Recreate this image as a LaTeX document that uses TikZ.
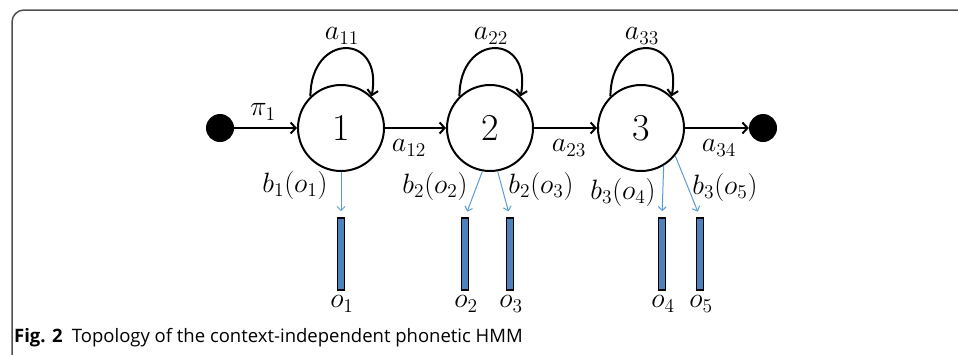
\documentclass[tikz,border=0pt]{standalone}
\usepackage{fontspec}
\setsansfont{Open Sans}
\usetikzlibrary{arrows.meta}
\definecolor{arrblue}{RGB}{91,155,213}
\definecolor{barblue}{RGB}{79,129,189}
\definecolor{framegray}{RGB}{80,80,80}
\newcommand{\lbl}[1]{\scalebox{1.35}{$#1$}}
\begin{document}
\begin{tikzpicture}[x=1pt,y=-1pt,
  state/.style={circle,draw,line width=2pt,minimum size=86pt,inner sep=0pt,font=\fontsize{38}{38}\selectfont},
  dot/.style={circle,fill=black,minimum size=28pt,inner sep=0pt},
  trans/.style={line width=2pt,-{Straight Barb[length=5pt,width=11pt,line width=2pt]}},
  emis/.style={arrblue,line width=1pt,-{Straight Barb[length=4pt,width=8pt]},shorten >=6pt},
  obsbar/.style={rectangle,draw=black,line width=1.6pt,fill=barblue,minimum width=7pt,minimum height=72pt,inner sep=0pt},
  lab/.style={font=\huge,inner sep=0pt},
  blab/.style={font=\huge,inner sep=0pt}]
\useasboundingbox (0,0) rectangle (958,354);
% frame
\draw[framegray,line width=1.5pt,rounded corners=12pt] (12,360) -- (12,10) -- (965,10);
% nodes
\node[dot] (start) at (220,128) {};
\node[state] (s1) at (341,128) {1};
\node[state] (s2) at (490,128) {2};
\node[state] (s3) at (641,128) {3};
\node[dot] (end) at (763,128) {};
% transitions
\draw[trans] (start) -- (s1);
\draw[trans] (s1) -- (s2);
\draw[trans] (s2) -- (s3);
\draw[trans] (s3) -- (end);
\foreach \s in {s1,s2,s3}{
  \draw[trans] (\s.134) .. controls +(0,-64) and +(12,-64) .. (\s.46);
}
% transition labels
\node[lab] (pi1) at (263,112) {\lbl{\pi_1}};
\node[lab] (a11) at (342,36) {\lbl{a_{11}}};
\node[lab] (a22) at (491,36) {\lbl{a_{22}}};
\node[lab] (a33) at (642,36) {\lbl{a_{33}}};
\node[lab] (a12) at (409,148) {\lbl{a_{12}}};
\node[lab] (a23) at (569,148) {\lbl{a_{23}}};
\node[lab] (a34) at (719,148) {\lbl{a_{34}}};
% observation bars
\node[obsbar] (o1) at (341,254) {};
\node[obsbar] (o2) at (465,254) {};
\node[obsbar] (o3) at (510,254) {};
\node[obsbar] (o4) at (662,254) {};
\node[obsbar] (o5) at (700,254) {};
\node[lab] (lo1) at (342,304) {\lbl{o_1}};
\node[lab] (lo2) at (466,304) {\lbl{o_2}};
\node[lab] (lo3) at (511,304) {\lbl{o_3}};
\node[lab] (lo4) at (663,304) {\lbl{o_4}};
\node[lab] (lo5) at (701,304) {\lbl{o_5}};
% emissions
\draw[emis] (s1.south) -- (o1.north);
\draw[emis] (s2.-100) -- (o2.north);
\draw[emis] (s2.-80) -- (o3.north);
\draw[emis] (s3.-59) -- (o4.north);
\draw[emis] (s3.-39) -- (o5.north);
\node[blab] (b1) at (295,185) {\lbl{b_1(o_1)}};
\node[blab] (b2a) at (435,186) {\lbl{b_2(o_2)}};
\node[blab] (b2b) at (541,186) {\lbl{b_2(o_3)}};
\node[blab] (b3a) at (623,192) {\lbl{b_3(o_4)}};
\node[blab] (b3b) at (725,187) {\lbl{b_3(o_5)}};
% caption
\node[anchor=base west,inner sep=0pt,font=\sffamily\fontsize{18.5}{22}\selectfont] (cap) at (14,342) {\textbf{Fig. 2}\hspace{0.5em}Topology of the context-independent phonetic HMM};
\end{tikzpicture}
\end{document}
